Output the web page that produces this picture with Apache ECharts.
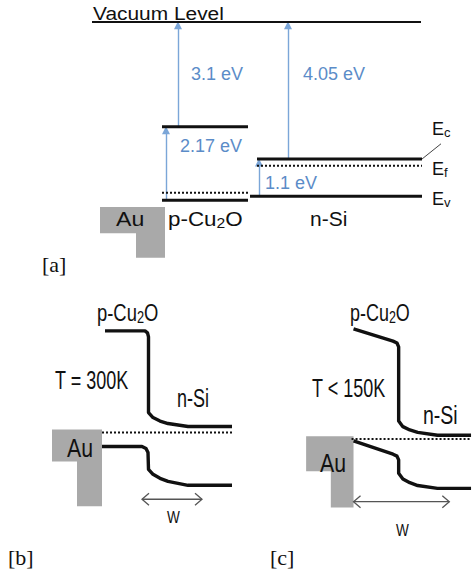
<!DOCTYPE html>
<html>
<head>
<meta charset="utf-8">
<script src="https://cdn.jsdelivr.net/npm/echarts@6/dist/echarts.min.js"></script>
<style>
  html, body { margin: 0; padding: 0; background: #ffffff; }
  #chart { width: 474px; height: 572px; }
</style>
</head>
<body>
<div id="chart"></div>
<script>
// ---------------- Panel [a]: energy levels (eV, below the vacuum level) ----------------
const vacuumLevel = 0;
const cu2oAffinity = 3.1;     // vacuum level -> Cu2O conduction band
const cu2oGap = 2.17;         // Cu2O band gap
const siAffinity = 4.05;      // vacuum level -> Si conduction band
const siGap = 1.1;            // Si band gap
const cu2oFermiAboveVB = 0.22;
const siFermiBelowCB = 0.2;

const cu2oCB = vacuumLevel - cu2oAffinity;
const cu2oVB = cu2oCB - cu2oGap;
const cu2oEF = cu2oVB + cu2oFermiAboveVB;
const siCB = vacuumLevel - siAffinity;
const siVB = siCB - siGap;
const siEF = siCB - siFermiBelowCB;

// ---------------- Panels [b] and [c]: band profiles [position, energy relative to E_F] ----------------
const cb300K = [[10.5, 10.2], [14.5, 10.2], [14.75, 10.0], [14.85, 9.6], [14.85, 2.0], [15.3, 1.5],
                [16.0, 1.15], [16.8, 0.9], [18.8, 0.6], [23.2, 0.6]];
const vb300K = [[10.2, -1.4], [14.2, -1.4], [14.6, -1.6], [14.8, -2.0], [14.85, -3.7], [15.3, -4.2],
                [16.0, -4.6], [16.8, -4.9], [18.8, -5.3], [23.2, -5.3]];
const ef300K = [[10.2, 0], [23.2, 0]];
const depletion300K = [14.2, 20.2];

const cb150K = [[11.8, 11.6], [15.8, 10.3], [16.2, 10.1], [16.37, 9.7], [16.37, 1.9], [16.8, 1.3],
                [17.5, 0.95], [18.3, 0.7], [20.3, 0.4], [23.7, 0.4]];
const vb150K = [[11.8, -0.2], [15.8, -1.6], [16.2, -1.8], [16.37, -2.2], [16.37, -3.6], [16.8, -4.2],
                [17.5, -4.6], [18.3, -4.9], [20.3, -5.2], [23.7, -5.2]];
const ef150K = [[11.6, 0], [23.7, 0]];
const depletion150K = [11.8, 21.5];

// ---------------- Layout of the drawing ----------------
const spanVacuum = [92, 421];
const spanCu2O = [162, 248];
const spanSiCB = [257, 422];
const spanSiVB = [250, 422];
const arrowX = { cu2oAff: 178, siAff: 288, cu2oGap: 166, siGap: 259 };
const auBlockA = [[100, -5.47], [165, -5.47], [165, -6.97], [136, -6.97], [136, -6.24], [100, -6.24]];
const auBlockB = [[5.2, 0.3], [10.2, 0.3], [10.2, -7.4], [7.7, -7.4], [7.7, -2.9], [5.2, -2.9]];
const auBlockC = [[7.0, 0.3], [11.8, 0.3], [11.8, -7.2], [9.5, -7.2], [9.5, -3.4], [7.0, -3.4]];
const wArrowY = { b: -6.7, c: -6.6 };

const BLACK = '#111111';
const BLUE_TEXT = '#5b8cc8';
const BLUE_LINE = '#7ba6d8';
const AU_GRAY = '#a9a9a9';
const SANS = '"Liberation Sans", Arial, sans-serif';
const SERIF = '"Liberation Serif", "DejaVu Serif", serif';

function seg(gi, data, width, dotted, color) {
  return {
    type: 'line', xAxisIndex: gi, yAxisIndex: gi, data: data,
    symbol: 'none', showSymbol: false, silent: true, animation: false, z: 3,
    lineStyle: { color: color || BLACK, width: width, type: dotted ? [2, 2] : 'solid', join: 'round', cap: 'butt' }
  };
}

function block(gi, poly) {
  return {
    type: 'custom', xAxisIndex: gi, yAxisIndex: gi, data: [0], silent: true, animation: false, z: 1,
    renderItem: function (params, api) {
      return { type: 'polygon', shape: { points: poly.map(p => api.coord(p)) }, style: { fill: AU_GRAY } };
    }
  };
}

function doubleArrow(gi, span, y) {
  return {
    type: 'custom', xAxisIndex: gi, yAxisIndex: gi, data: [0], silent: true, animation: false, z: 3,
    renderItem: function (params, api) {
      const a = api.coord([span[0], y]);
      const b = api.coord([span[1], y]);
      const h = 6, w = 7;
      const st = { stroke: '#555555', lineWidth: 1.3, fill: null };
      return {
        type: 'group', children: [
          { type: 'line', shape: { x1: a[0], y1: a[1], x2: b[0], y2: b[1] }, style: st },
          { type: 'polyline', shape: { points: [[a[0] + w, a[1] - h], a, [a[0] + w, a[1] + h]] }, style: st },
          { type: 'polyline', shape: { points: [[b[0] - w, b[1] - h], b, [b[0] - w, b[1] + h]] }, style: st }
        ]
      };
    }
  };
}

function txt(x, y, text, size, opts) {
  opts = opts || {};
  const style = {
    text: text, x: 0, y: 0, fontSize: size, fontFamily: opts.font || SANS,
    fill: opts.color || BLACK, align: 'left', verticalAlign: 'middle'
  };
  if (opts.rich) style.rich = opts.rich;
  return { type: 'text', x: x, y: y, z: 50, scaleX: opts.sx || 1, silent: true, style: style };
}

function subRich(size, subSize, color) {
  return {
    m: { fontSize: size, fontFamily: SANS, fill: color || BLACK, lineHeight: Math.round(size * 1.1), verticalAlign: 'middle' },
    s: { fontSize: subSize, fontFamily: SANS, fill: color || BLACK, lineHeight: Math.round(subSize * 0.9), verticalAlign: 'bottom' }
  };
}

const eV = v => v + ' eV';

const chart = echarts.init(document.getElementById('chart'), null, { renderer: 'svg' });

const option = {
  backgroundColor: '#ffffff',
  animation: false,
  grid: [
    { left: 0, top: 5, width: 474, height: 270.8 },     // panel a: energy in eV
    { left: 0, top: 293, width: 240, height: 280 },     // panel b
    { left: 237, top: 306, width: 240, height: 280 }    // panel c
  ],
  xAxis: [
    { type: 'value', gridIndex: 0, min: 0, max: 474, show: false },
    { type: 'value', gridIndex: 1, min: 0, max: 24, show: false },
    { type: 'value', gridIndex: 2, min: 0, max: 24, show: false }
  ],
  yAxis: [
    { type: 'value', gridIndex: 0, min: -7.5, max: 0.5, show: false },
    { type: 'value', gridIndex: 1, min: -14, max: 14, show: false },
    { type: 'value', gridIndex: 2, min: -14, max: 14, show: false }
  ],
  series: [
    // ---- panel a
    block(0, auBlockA),
    seg(0, [[spanVacuum[0], vacuumLevel], [spanVacuum[1], vacuumLevel]], 2),
    seg(0, [[spanCu2O[0], cu2oCB], [spanCu2O[1], cu2oCB]], 3),
    seg(0, [[spanCu2O[0], cu2oVB], [spanCu2O[1], cu2oVB]], 3),
    seg(0, [[spanCu2O[0], cu2oEF], [spanCu2O[1], cu2oEF]], 2, true),
    seg(0, [[spanSiCB[0], siCB], [spanSiCB[1], siCB]], 3),
    seg(0, [[spanSiCB[0], siEF], [spanSiCB[1], siEF]], 2, true),
    seg(0, [[spanSiVB[0], siVB], [spanSiVB[1], siVB]], 3),
    seg(0, [[spanSiCB[1], siCB], [spanSiCB[1] + 19, siCB + 0.45]], 1, false, '#444444'),
    {
      type: 'lines', coordinateSystem: 'cartesian2d', xAxisIndex: 0, yAxisIndex: 0,
      silent: true, animation: false, z: 2,
      symbol: ['none', 'triangle'], symbolSize: [7, 8],
      lineStyle: { color: BLUE_LINE, width: 1.4, opacity: 1 },
      data: [
        { coords: [[arrowX.cu2oAff, cu2oCB], [arrowX.cu2oAff, vacuumLevel - 0.1]] },
        { coords: [[arrowX.siAff, siCB], [arrowX.siAff, vacuumLevel - 0.1]] },
        { coords: [[arrowX.cu2oGap, cu2oVB], [arrowX.cu2oGap, cu2oCB - 0.1]] },
        { coords: [[arrowX.siGap, siVB], [arrowX.siGap, siCB - 0.1]] }
      ]
    },
    // ---- panel b (T = 300K)
    block(1, auBlockB),
    seg(1, ef300K, 2.2, true),
    seg(1, cb300K, 3.4),
    seg(1, vb300K, 3.4),
    doubleArrow(1, depletion300K, wArrowY.b),
    // ---- panel c (T < 150K)
    block(2, auBlockC),
    seg(2, ef150K, 2.2, true),
    seg(2, cb150K, 3.4),
    seg(2, vb150K, 3.4),
    doubleArrow(2, depletion150K, wArrowY.c)
  ],
  graphic: [
    // panel a
    txt(93, 13, 'Vacuum Level', 19, { sx: 1.1 }),
    txt(191, 74, eV(cu2oAffinity), 18, { color: BLUE_TEXT }),
    txt(303, 74, eV(siAffinity), 18, { color: BLUE_TEXT }),
    txt(180, 146, eV(cu2oGap), 18, { color: BLUE_TEXT }),
    txt(265, 183, eV(siGap), 18, { color: BLUE_TEXT }),
    txt(432, 129, '{m|E}{s|c}', 18, { rich: subRich(18, 13) }),
    txt(432, 169, '{m|E}{s|f}', 18, { rich: subRich(18, 13) }),
    txt(432, 199, '{m|E}{s|v}', 18, { rich: subRich(18, 13) }),
    txt(116, 219, 'Au', 21, { sx: 1.1 }),
    txt(168, 219, '{m|p-Cu}{s|2}{m|O}', 20, { sx: 1.12, rich: subRich(20, 14) }),
    txt(310, 219, 'n-Si', 20, { sx: 1.05 }),
    txt(42, 264, '[a]', 22, { font: SERIF }),
    // panel b
    txt(97, 313, '{m|p-Cu}{s|2}{m|O}', 23, { sx: 0.8, rich: subRich(23, 16) }),
    txt(55, 380, 'T = 300K', 25, { sx: 0.72 }),
    txt(177, 398, 'n-Si', 25, { sx: 0.72 }),
    txt(67, 448, 'Au', 25, { sx: 0.85 }),
    txt(167, 518, 'W', 16, { sx: 0.85 }),
    txt(8, 557, '[b]', 22, { font: SERIF }),
    // panel c
    txt(350, 313, '{m|p-Cu}{s|2}{m|O}', 23, { sx: 0.78, rich: subRich(23, 16) }),
    txt(312, 388, 'T < 150K', 25, { sx: 0.72 }),
    txt(423, 416, 'n-Si', 25, { sx: 0.78 }),
    txt(320, 463, 'Au', 25, { sx: 0.85 }),
    txt(396, 531, 'W', 16, { sx: 0.85 }),
    txt(270, 557, '[c]', 22, { font: SERIF })
  ]
};

chart.setOption(option);
</script>
</body>
</html>
